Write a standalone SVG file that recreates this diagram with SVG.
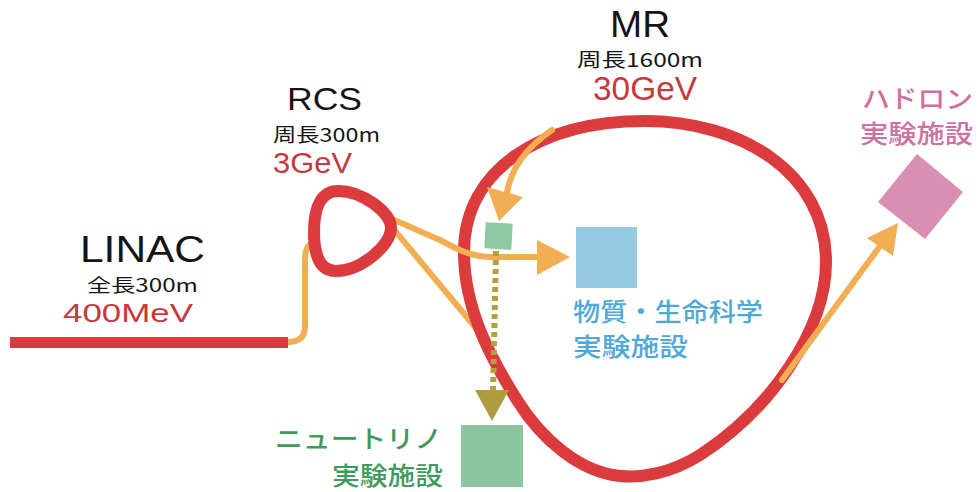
<svg xmlns="http://www.w3.org/2000/svg" width="980" height="492" viewBox="0 0 980 492">
<style>
.lat{font-family:"Liberation Sans","Noto Sans CJK JP",sans-serif;}
.jp{font-family:"Noto Sans CJK JP","Liberation Sans",sans-serif;}
.lbl{font-family:"Noto Sans CJK JP","Liberation Sans",sans-serif;font-weight:500;}
.blk{fill:#141414;}
.red{fill:#c9383c;}
.ring{fill:none;stroke:#dc3b3d;stroke-width:12;stroke-linejoin:round;}
.beam{fill:none;stroke:#f2ae52;stroke-width:6;stroke-linecap:round;stroke-linejoin:round;}
.ah{fill:#f2ae52;}
</style>
<rect width="980" height="492" fill="#ffffff"/>
<g id="connectors">
  <path class="beam" d="M288 342 Q305 342 305 326 L305 258 Q305 246 314 241"/>
  <path class="beam" d="M396 232 L490 345"/>
</g>
<g id="linac">
  <rect x="10" y="337" width="278" height="11" fill="#dc3b3d"/>
  <text class="lat blk" x="80" y="262" font-size="37" textLength="125" lengthAdjust="spacingAndGlyphs">LINAC</text>
  <text class="jp blk" x="87" y="292" font-size="18" textLength="111" lengthAdjust="spacingAndGlyphs">全長300m</text>
  <text class="lat red" x="63" y="322" font-size="26" textLength="130" lengthAdjust="spacingAndGlyphs">400MeV</text>
</g>
<g id="rcs">
  <path class="beam" d="M392 219 L440 240"/>
  <path class="ring" d="M338 191 C362 191 391 212 391 228 C391 246 360 271 336 271 C320 271 314 256 314 232 C314 206 322 191 338 191 Z"/>
  <text class="lat blk" x="287" y="110" font-size="32" textLength="75" lengthAdjust="spacingAndGlyphs">RCS</text>
  <text class="jp blk" x="273" y="142" font-size="19" textLength="107" lengthAdjust="spacingAndGlyphs">周長300m</text>
  <text class="lat red" x="273" y="173" font-size="30" textLength="79" lengthAdjust="spacingAndGlyphs">3GeV</text>
</g>
<g id="mr">
  <path class="ring" d="M645 121 C740 121 826 172 826 262 C826 330 770 410 700 455 C670 474 640 478 620 476 C580 472 542 440 517 400 C492 360 464 310 464 252 C464 170 540 121 645 121 Z"/>
  <text class="lat blk" x="610" y="37" font-size="37" textLength="60" lengthAdjust="spacingAndGlyphs">MR</text>
  <text class="jp blk" x="577" y="67" font-size="19" textLength="126" lengthAdjust="spacingAndGlyphs">周長1600m</text>
  <text class="lat red" x="593" y="100" font-size="33" textLength="104" lengthAdjust="spacingAndGlyphs">30GeV</text>
</g>
<g id="beamlines">
  <path class="beam" d="M440 240 C455 248 468 256 490 257 L540 257"/>
  <polygon class="ah" points="570,257 537,240 537,275"/>
  <path class="beam" d="M552 130 C530 145 512 165 507 192"/>
  <polygon class="ah" points="487,187 523,197 499,221"/>
  <path class="beam" d="M782 380 L880 246"/>
  <polygon class="ah" points="898,223 867,238 893,256"/>
  <line x1="496" y1="251" x2="493" y2="392" stroke="#b3a040" stroke-width="6" stroke-dasharray="5 4"/>
  <polygon points="475,390 509,390 492,421" fill="#ae9c3e"/>
</g>
<g id="target">
  <rect x="485" y="223" width="27" height="26" fill="#8cc8a0" transform="rotate(3 498 236)"/>
</g>
<g id="mlf">
  <rect x="576" y="227" width="61" height="61" fill="#97cae3"/>
  <text class="lbl" font-size="25" fill="#4ea9db"><tspan x="573" y="321" textLength="190" lengthAdjust="spacingAndGlyphs">物質・生命科学</tspan><tspan x="573" y="356" textLength="115" lengthAdjust="spacingAndGlyphs">実験施設</tspan></text>
</g>
<g id="neutrino">
  <rect x="461" y="425" width="62" height="62" fill="#8cc6a0"/>
  <text class="lbl" font-size="25" fill="#3f9a5b"><tspan x="275" y="448" textLength="167" lengthAdjust="spacingAndGlyphs">ニュートリノ</tspan><tspan x="332" y="485" textLength="111" lengthAdjust="spacingAndGlyphs">実験施設</tspan></text>
</g>
<g id="hadron">
  <polygon points="917,154 963,192 925,239 878,202" fill="#d98fb1"/>
  <text class="lbl" font-size="25" fill="#d06fa0"><tspan x="862" y="108" textLength="111" lengthAdjust="spacingAndGlyphs">ハドロン</tspan><tspan x="860" y="143" textLength="113" lengthAdjust="spacingAndGlyphs">実験施設</tspan></text>
</g>
</svg>
